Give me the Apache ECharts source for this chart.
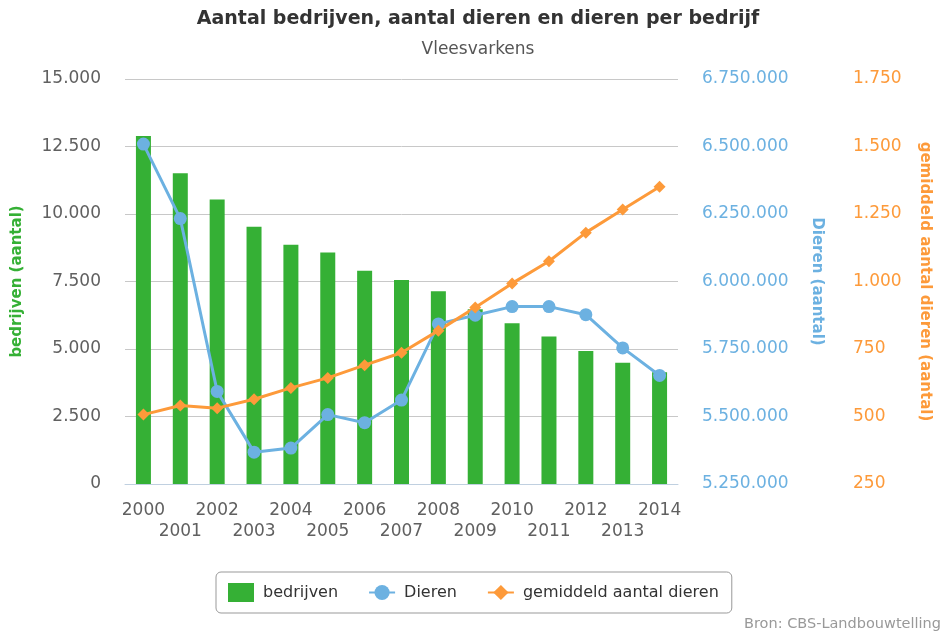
<!DOCTYPE html>
<html>
<head>
<meta charset="utf-8">
<script src="https://cdn.jsdelivr.net/npm/echarts@6/dist/echarts.min.js"></script>
<style>
  html, body { margin: 0; padding: 0; background: #fff; }
  #chart { width: 940px; height: 633px; }
</style>
</head>
<body>
<div id="chart"></div>
<script>
var years = ['2000','2001','2002','2003','2004','2005','2006','2007','2008','2009','2010','2011','2012','2013','2014'];
var bedrijven = [12890, 11510, 10540, 9530, 8860, 8570, 7900, 7560, 7140, 6470, 5950, 5460, 4930, 4490, 4140];
var dieren = [6509000, 6233000, 5593000, 5368000, 5383000, 5507000, 5477000, 5561000, 5843000, 5875000, 5907000, 5907000, 5877000, 5754000, 5652000];
var gemiddeld = [507, 541, 531, 564, 606, 643, 690, 736, 818, 904, 993, 1075, 1181, 1267, 1351];

var green = '#35b035';
var blue = '#6cb1e1';
var orange = '#fd9a3a';
var font = 'DejaVu Sans';

function fmt(v) {
  return String(v).replace(/\B(?=(\d{3})+(?!\d))/g, '.');
}

var chart = echarts.init(document.getElementById('chart'));

var option = {
  animation: false,
  textStyle: { fontFamily: font },
  title: {
    text: 'Aantal bedrijven, aantal dieren en dieren per bedrijf',
    subtext: 'Vleesvarkens',
    left: 473,
    top: 5,
    textAlign: 'center',
    itemGap: 12,
    textStyle: { fontFamily: font, fontSize: 19, fontWeight: 'bold', color: '#333' },
    subtextStyle: { fontFamily: font, fontSize: 17, color: '#555' }
  },
  legend: {
    left: 216,
    top: 572,
    padding: [11, 13, 11, 12],
    borderColor: '#999',
    borderWidth: 1,
    borderRadius: 5,
    itemWidth: 26,
    itemHeight: 19,
    itemGap: 30,
    textStyle: { fontFamily: font, fontSize: 16, color: '#333', padding: [0, 0, 0, 4] },
    data: [
      { name: 'bedrijven', icon: 'rect' },
      { name: 'Dieren' },
      { name: 'gemiddeld aantal dieren' }
    ]
  },
  grid: { left: 125, right: 257, top: 79, bottom: 149 },
  xAxis: {
    type: 'category',
    data: years,
    axisLine: { lineStyle: { color: '#c0d0e0' } },
    axisTick: { length: 14, lineStyle: { color: '#c0d0e0' } },
    axisLabel: {
      interval: 0,
      color: '#606060',
      fontSize: 17,
      lineHeight: 21,
      margin: 16,
      formatter: function (v, i) { return i % 2 ? '\n' + v : v; }
    }
  },
  yAxis: [
    {
      type: 'value',
      position: 'left',
      min: 0,
      max: 15000,
      interval: 2500,
      name: 'bedrijven (aantal)',
      nameLocation: 'middle',
      nameGap: 100,
      nameRotate: 90,
      nameTextStyle: { color: green, fontWeight: 'bold', fontSize: 15 },
      axisLine: { show: false },
      axisTick: { show: false },
      axisLabel: { color: '#606060', fontSize: 17, margin: 24, formatter: fmt },
      splitLine: { lineStyle: { color: '#c8c8c8' } }
    },
    {
      type: 'value',
      position: 'right',
      min: 5250000,
      max: 6750000,
      interval: 250000,
      name: 'Dieren (aantal)',
      nameLocation: 'middle',
      nameGap: 131,
      nameRotate: -90,
      nameTextStyle: { color: blue, fontWeight: 'bold', fontSize: 15 },
      axisLine: { show: false },
      axisTick: { show: false },
      axisLabel: { color: blue, fontSize: 17, margin: 24, formatter: fmt },
      splitLine: { show: false }
    },
    {
      type: 'value',
      position: 'right',
      offset: 151,
      min: 250,
      max: 1750,
      interval: 250,
      name: 'gemiddeld aantal dieren (aantal)',
      nameLocation: 'middle',
      nameGap: 88,
      nameRotate: -90,
      nameTextStyle: { color: orange, fontWeight: 'bold', fontSize: 15 },
      axisLine: { show: false },
      axisTick: { show: false },
      axisLabel: { color: orange, fontSize: 17, margin: 24, formatter: fmt },
      splitLine: { show: false }
    }
  ],
  series: [
    {
      name: 'bedrijven',
      type: 'bar',
      yAxisIndex: 0,
      barWidth: 15,
      itemStyle: { color: green },
      data: bedrijven
    },
    {
      name: 'Dieren',
      type: 'line',
      yAxisIndex: 1,
      symbol: 'circle',
      symbolSize: 13,
      lineStyle: { width: 3, color: blue },
      itemStyle: { color: blue },
      data: dieren
    },
    {
      name: 'gemiddeld aantal dieren',
      type: 'line',
      yAxisIndex: 2,
      symbol: 'diamond',
      symbolSize: 12,
      lineStyle: { width: 3, color: orange },
      itemStyle: { color: orange },
      data: gemiddeld
    }
  ],
  graphic: [
    {
      type: 'text',
      left: 744,
      top: 617,
      style: { text: 'Bron: CBS-Landbouwtelling', fontFamily: font, fontSize: 14.5, fill: '#999' }
    }
  ]
};

chart.setOption(option);
</script>
</body>
</html>
